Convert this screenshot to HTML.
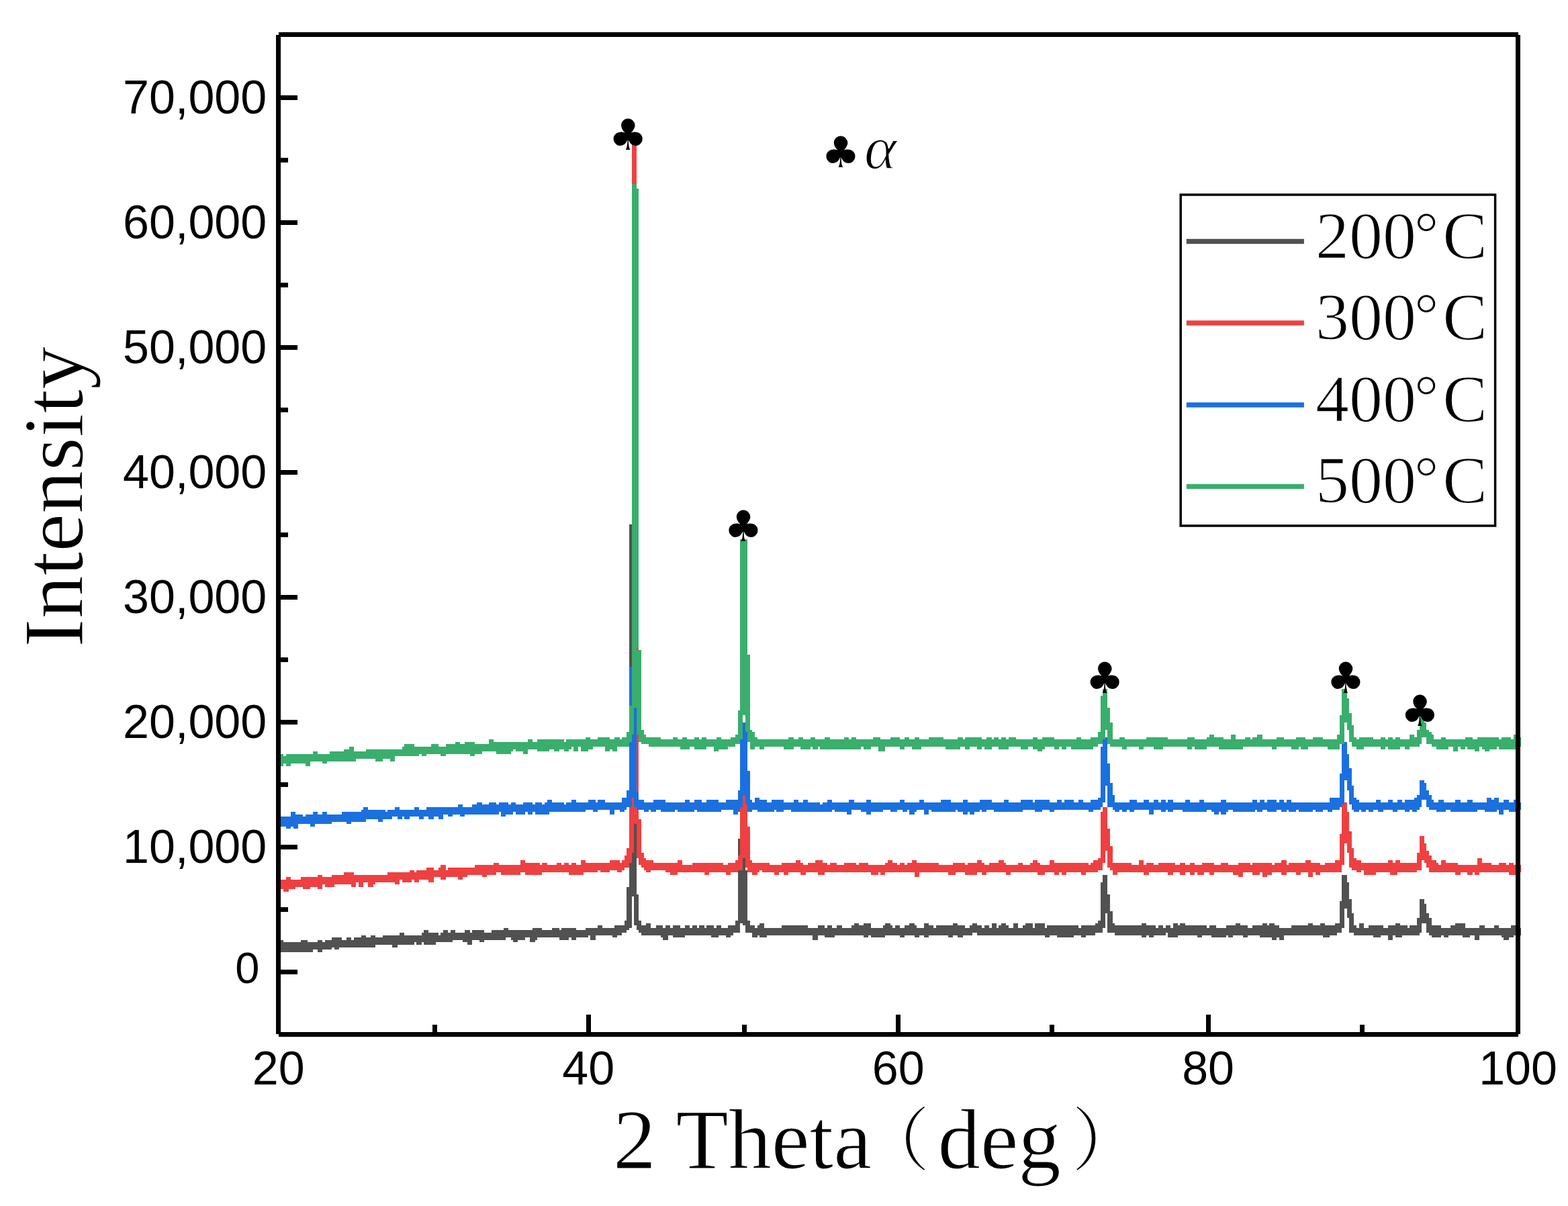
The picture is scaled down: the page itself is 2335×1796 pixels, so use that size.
<!DOCTYPE html><html><head><meta charset="utf-8"><style>html,body{margin:0;padding:0;background:#fff;overflow:hidden;}svg{display:block;}.s{font-family:"Liberation Sans",sans-serif;}.r{font-family:"Liberation Serif","Noto Serif CJK SC",serif;}</style></head><body>
<svg width="2335" height="1796" viewBox="0 0 2335 1796">
<rect width="2335" height="1796" fill="#fff"/>
<g transform="translate(1.500 0.250) scale(3.5980)" shape-rendering="crispEdges">
<path fill="#515151" d="M114 391h1v2h-1zM115 389h2v5h-2zM117 390h7v4h-7zM124 389h3v5h-3zM127 390h2v4h-2zM129 390h2v3h-2zM131 389h2v5h-2zM133 390h1v3h-1zM134 389h3v4h-3zM137 388h1v4h-1zM138 388h2v5h-2zM140 388h1v4h-1zM141 389h2v3h-2zM143 388h2v4h-2zM145 389h1v3h-1zM146 388h3v4h-3zM149 387h2v5h-2zM151 388h2v4h-2zM153 387h2v5h-2zM155 388h3v3h-3zM158 387h4v4h-4zM162 387h2v5h-2zM164 387h1v4h-1zM165 386h2v5h-2zM167 387h4v4h-4zM171 387h1v3h-1zM172 387h2v4h-2zM174 386h1v4h-1zM175 385h2v6h-2zM177 386h3v5h-3zM180 386h1v4h-1zM181 387h1v3h-1zM182 386h1v4h-1zM183 385h2v5h-2zM185 386h1v4h-1zM186 385h1v5h-1zM187 385h1v4h-1zM188 386h3v3h-3zM191 386h1v4h-1zM192 385h1v5h-1zM193 385h1v6h-1zM194 386h1v5h-1zM195 385h3v4h-3zM198 385h2v5h-2zM200 386h3v3h-3zM203 385h5v4h-5zM208 384h1v5h-1zM209 384h1v4h-1zM210 385h1v3h-1zM211 385h1v4h-1zM212 385h2v5h-2zM214 385h3v4h-3zM217 385h2v3h-2zM219 385h1v5h-1zM220 384h1v6h-1zM221 384h1v5h-1zM222 384h2v4h-2zM224 385h4v3h-4zM228 384h3v4h-3zM231 385h1v4h-1zM232 384h3v5h-3zM235 384h1v4h-1zM236 384h2v5h-2zM238 385h4v3h-4zM242 384h1v4h-1zM243 384h1v3h-1zM244 384h2v5h-2zM246 384h1v3h-1zM247 383h2v4h-2zM249 384h4v3h-4zM253 384h1v4h-1zM254 383h1v5h-1zM255 383h2v4h-2zM257 383h1v3h-1zM258 381h1v5h-1zM259 367h1v18h-1zM260 217h1v167h-1zM261 217h1v154h-1zM262 236h1v147h-1zM263 370h1v15h-1zM264 381h1v5h-1zM265 383h2v4h-2zM267 382h2v5h-2zM269 384h2v3h-2zM271 383h2v4h-2zM273 383h1v5h-1zM274 384h1v5h-1zM275 383h1v6h-1zM276 383h1v4h-1zM277 384h1v3h-1zM278 383h3v5h-3zM281 384h2v4h-2zM283 383h2v4h-2zM285 384h1v3h-1zM286 383h2v4h-2zM288 384h1v3h-1zM289 383h2v4h-2zM291 384h1v3h-1zM292 383h2v4h-2zM294 383h1v5h-1zM295 384h1v4h-1zM296 383h1v5h-1zM297 383h1v4h-1zM298 384h2v3h-2zM300 384h1v4h-1zM301 383h1v5h-1zM302 383h1v4h-1zM303 383h1v3h-1zM304 381h1v5h-1zM305 347h1v39h-1zM306 340h1v42h-1zM307 340h1v43h-1zM308 360h1v26h-1zM309 381h1v5h-1zM310 383h1v3h-1zM311 383h1v5h-1zM312 384h1v4h-1zM313 383h1v4h-1zM314 382h2v6h-2zM316 384h1v4h-1zM317 384h6v3h-6zM323 383h11v4h-11zM334 384h2v3h-2zM336 384h2v5h-2zM338 383h3v4h-3zM341 384h1v4h-1zM342 383h2v5h-2zM344 384h1v4h-1zM345 384h1v3h-1zM346 383h2v4h-2zM348 384h4v3h-4zM352 383h1v4h-1zM353 382h2v5h-2zM355 383h2v4h-2zM357 382h2v6h-2zM359 382h1v5h-1zM360 384h5v4h-5zM365 383h1v5h-1zM366 382h2v5h-2zM368 383h1v4h-1zM369 384h1v3h-1zM370 383h2v4h-2zM372 384h2v4h-2zM374 383h2v4h-2zM376 382h2v5h-2zM378 383h1v5h-1zM379 384h1v4h-1zM380 384h2v3h-2zM382 382h2v6h-2zM384 383h2v4h-2zM386 384h1v3h-1zM387 383h5v4h-5zM392 383h2v5h-2zM394 382h2v5h-2zM396 383h2v5h-2zM398 383h1v4h-1zM399 384h2v3h-2zM401 383h1v4h-1zM402 382h2v4h-2zM404 383h2v4h-2zM406 384h1v3h-1zM407 383h2v4h-2zM409 384h1v3h-1zM410 382h2v5h-2zM412 384h1v3h-1zM413 383h1v4h-1zM414 382h2v5h-2zM416 383h1v4h-1zM417 384h2v3h-2zM419 382h2v5h-2zM421 384h2v3h-2zM423 383h1v4h-1zM424 382h3v5h-3zM427 384h1v3h-1zM428 382h4v5h-4zM432 384h1v4h-1zM433 383h1v5h-1zM434 383h3v4h-3zM437 383h7v5h-7zM444 383h2v4h-2zM446 384h1v3h-1zM447 383h2v5h-2zM449 383h4v4h-4zM453 382h1v4h-1zM454 381h1v5h-1zM455 365h1v21h-1zM456 362h1v22h-1zM457 362h1v16h-1zM458 370h1v16h-1zM459 377h1v9h-1zM460 382h1v4h-1zM461 383h11v4h-11zM472 382h2v6h-2zM474 383h1v4h-1zM475 383h2v5h-2zM477 383h1v4h-1zM478 384h1v3h-1zM479 383h2v4h-2zM481 384h1v3h-1zM482 383h1v3h-1zM483 383h1v5h-1zM484 384h1v4h-1zM485 382h2v6h-2zM487 383h1v4h-1zM488 382h2v5h-2zM490 383h5v4h-5zM495 383h2v5h-2zM497 383h2v4h-2zM499 384h1v3h-1zM500 383h1v4h-1zM501 383h2v5h-2zM503 384h4v4h-4zM507 383h1v4h-1zM508 383h2v5h-2zM510 383h1v4h-1zM511 382h2v5h-2zM513 383h1v4h-1zM514 383h2v5h-2zM516 384h2v3h-2zM518 383h3v4h-3zM521 383h1v5h-1zM522 382h2v6h-2zM524 383h1v5h-1zM525 382h1v6h-1zM526 382h1v7h-1zM527 383h1v6h-1zM528 383h1v5h-1zM529 384h2v5h-2zM531 384h3v3h-3zM534 383h7v4h-7zM541 382h2v5h-2zM543 383h3v4h-3zM546 382h1v5h-1zM547 382h1v6h-1zM548 383h2v5h-2zM550 383h2v4h-2zM552 382h1v5h-1zM553 382h1v4h-1zM554 373h1v13h-1zM555 362h1v22h-1zM556 362h1v14h-1zM557 365h1v15h-1zM558 372h1v14h-1zM559 378h1v8h-1zM560 383h1v4h-1zM561 384h1v3h-1zM562 382h2v5h-2zM564 384h2v3h-2zM566 383h2v4h-2zM568 383h3v5h-3zM571 383h1v4h-1zM572 384h2v3h-2zM574 383h2v6h-2zM576 383h1v4h-1zM577 382h2v6h-2zM579 383h1v5h-1zM580 383h2v4h-2zM582 384h1v3h-1zM583 383h3v4h-3zM586 380h1v7h-1zM587 372h1v14h-1zM588 372h1v10h-1zM589 374h1v8h-1zM590 378h1v8h-1zM591 380h1v7h-1zM592 383h4v5h-4zM596 384h1v3h-1zM597 384h2v4h-2zM599 384h1v3h-1zM600 383h2v4h-2zM602 382h3v5h-3zM605 382h1v6h-1zM606 384h2v4h-2zM608 384h2v3h-2zM610 384h2v5h-2zM612 383h2v4h-2zM614 384h4v3h-4zM618 383h2v4h-2zM620 384h1v3h-1zM621 384h1v4h-1zM622 384h2v5h-2zM624 384h1v4h-1zM625 383h1v5h-1zM626 383h1v4h-1zM627 384h2v3h-2z"/>
<path fill="#ef4041" d="M114 364h1v3h-1zM115 364h2v4h-2zM117 364h1v5h-1zM118 363h1v6h-1zM119 363h1v5h-1zM120 364h2v4h-2zM122 364h2v3h-2zM124 363h1v4h-1zM125 363h3v5h-3zM128 363h3v4h-3zM131 362h2v6h-2zM133 363h1v3h-1zM134 363h3v4h-3zM137 362h1v5h-1zM138 362h4v4h-4zM142 361h3v5h-3zM145 361h1v6h-1zM146 362h1v5h-1zM147 362h1v3h-1zM148 362h2v5h-2zM150 362h2v3h-2zM152 362h2v5h-2zM154 362h1v4h-1zM155 362h5v3h-5zM160 361h3v4h-3zM163 361h2v5h-2zM165 361h1v3h-1zM166 361h3v4h-3zM169 360h1v5h-1zM170 360h1v4h-1zM171 361h1v4h-1zM172 360h1v5h-1zM173 360h3v4h-3zM176 359h1v5h-1zM177 359h2v6h-2zM179 360h2v3h-2zM181 359h1v4h-1zM182 358h2v6h-2zM184 360h1v3h-1zM185 359h4v4h-4zM189 359h2v5h-2zM191 359h2v4h-2zM193 359h3v3h-3zM196 358h3v4h-3zM199 358h2v5h-2zM201 358h3v4h-3zM204 357h1v5h-1zM205 357h1v4h-1zM206 358h1v3h-1zM207 358h8v4h-8zM215 356h2v5h-2zM217 357h6v5h-6zM223 358h1v4h-1zM224 357h2v4h-2zM226 358h4v3h-4zM230 357h2v4h-2zM232 358h1v3h-1zM233 357h2v4h-2zM235 358h1v4h-1zM236 357h2v5h-2zM238 358h2v4h-2zM240 356h1v6h-1zM241 356h1v5h-1zM242 357h5v4h-5zM247 357h1v3h-1zM248 357h4v4h-4zM252 356h3v4h-3zM255 356h1v5h-1zM256 357h1v4h-1zM257 356h1v4h-1zM258 354h1v5h-1zM259 351h1v8h-1zM260 296h1v61h-1zM261 58h1v236h-1zM261 296h1v57h-1zM262 58h1v283h-1zM263 131h1v224h-1zM264 339h1v19h-1zM265 353h1v6h-1zM266 355h1v5h-1zM267 356h2v5h-2zM269 356h1v4h-1zM270 357h5v3h-5zM275 357h2v4h-2zM277 357h3v5h-3zM280 356h2v5h-2zM282 358h4v3h-4zM286 357h5v4h-5zM291 357h2v5h-2zM293 357h6v4h-6zM299 358h1v3h-1zM300 358h1v4h-1zM301 357h1v5h-1zM302 357h2v4h-2zM304 356h1v5h-1zM305 354h1v6h-1zM306 321h1v39h-1zM307 321h1v34h-1zM308 321h1v38h-1zM309 342h1v19h-1zM310 356h1v5h-1zM311 357h2v5h-2zM313 357h1v4h-1zM314 357h1v3h-1zM315 357h3v4h-3zM318 358h2v3h-2zM320 358h2v4h-2zM322 358h1v3h-1zM323 357h1v4h-1zM324 357h2v5h-2zM326 357h3v4h-3zM329 356h2v5h-2zM331 357h1v5h-1zM332 358h1v4h-1zM333 358h1v3h-1zM334 357h3v4h-3zM337 356h1v5h-1zM338 356h2v6h-2zM340 357h1v5h-1zM341 357h1v4h-1zM342 358h1v3h-1zM343 357h3v4h-3zM346 358h3v3h-3zM349 357h5v4h-5zM354 358h1v3h-1zM355 357h4v4h-4zM359 358h1v3h-1zM360 358h3v4h-3zM363 358h1v3h-1zM364 358h2v4h-2zM366 357h1v4h-1zM367 356h2v5h-2zM369 357h2v4h-2zM371 358h1v3h-1zM372 357h2v4h-2zM374 358h1v3h-1zM375 357h2v4h-2zM377 356h1v5h-1zM378 356h1v7h-1zM379 357h1v6h-1zM380 357h8v4h-8zM388 358h4v3h-4zM392 358h2v4h-2zM394 357h1v5h-1zM395 357h4v4h-4zM399 358h1v4h-1zM400 357h4v5h-4zM404 356h2v5h-2zM406 357h1v5h-1zM407 358h1v4h-1zM408 358h1v3h-1zM409 357h4v4h-4zM413 356h2v5h-2zM415 357h1v4h-1zM416 358h2v4h-2zM418 358h3v3h-3zM421 357h2v4h-2zM423 358h3v3h-3zM426 357h1v4h-1zM427 356h2v5h-2zM429 357h1v5h-1zM430 358h2v4h-2zM432 358h2v3h-2zM434 356h2v5h-2zM436 357h2v5h-2zM438 357h1v4h-1zM439 357h2v5h-2zM441 357h6v4h-6zM447 357h2v5h-2zM449 357h1v4h-1zM450 358h1v3h-1zM451 357h1v4h-1zM452 356h2v5h-2zM454 355h1v5h-1zM455 336h1v24h-1zM456 334h1v23h-1zM457 334h1v18h-1zM458 343h1v16h-1zM459 350h1v10h-1zM460 357h2v5h-2zM462 357h6v4h-6zM468 358h3v3h-3zM471 356h2v5h-2zM473 358h1v4h-1zM474 357h1v5h-1zM475 357h2v4h-2zM477 358h2v3h-2zM479 357h4v4h-4zM483 357h2v5h-2zM485 357h1v4h-1zM486 358h2v3h-2zM488 357h2v5h-2zM490 358h2v3h-2zM492 357h2v5h-2zM494 358h1v3h-1zM495 358h2v4h-2zM497 357h1v5h-1zM498 357h2v4h-2zM500 357h2v5h-2zM502 358h3v3h-3zM505 357h3v4h-3zM508 358h2v3h-2zM510 358h2v4h-2zM512 357h2v6h-2zM514 357h3v4h-3zM517 358h1v3h-1zM518 357h3v5h-3zM521 357h1v4h-1zM522 357h2v6h-2zM524 357h2v5h-2zM526 358h1v3h-1zM527 357h3v4h-3zM530 356h2v6h-2zM532 358h1v3h-1zM533 357h3v4h-3zM536 357h2v5h-2zM538 357h2v4h-2zM540 356h1v5h-1zM541 356h1v7h-1zM542 357h1v6h-1zM543 357h1v4h-1zM544 357h2v5h-2zM546 358h2v3h-2zM548 357h4v4h-4zM552 356h2v5h-2zM554 345h1v16h-1zM555 332h1v26h-1zM556 332h1v17h-1zM557 336h1v17h-1zM558 344h1v15h-1zM559 351h1v9h-1zM560 355h1v5h-1zM561 356h2v5h-2zM563 357h1v3h-1zM564 357h5v5h-5zM569 357h5v4h-5zM574 356h1v5h-1zM575 356h1v6h-1zM576 357h1v5h-1zM577 356h1v6h-1zM578 356h1v5h-1zM579 357h7v4h-7zM586 353h1v7h-1zM587 346h1v14h-1zM588 346h1v10h-1zM589 349h1v8h-1zM590 352h1v7h-1zM591 354h1v7h-1zM592 356h2v5h-2zM594 357h1v4h-1zM595 358h1v3h-1zM596 356h2v5h-2zM598 357h4v4h-4zM602 357h1v5h-1zM603 358h1v4h-1zM604 358h3v3h-3zM607 358h2v4h-2zM609 358h1v3h-1zM610 358h1v4h-1zM611 355h1v7h-1zM612 355h1v6h-1zM613 357h4v4h-4zM617 358h3v3h-3zM620 357h3v4h-3zM623 358h1v3h-1zM624 357h2v5h-2zM626 358h1v4h-1zM627 358h2v3h-2z"/>
<path fill="#1a70df" d="M114 339h1v3h-1zM115 338h3v4h-3zM118 338h2v5h-2zM120 336h1v6h-1zM121 336h1v7h-1zM122 337h1v6h-1zM123 337h2v4h-2zM125 338h1v3h-1zM126 337h2v4h-2zM128 337h1v5h-1zM129 336h1v6h-1zM130 336h1v5h-1zM131 337h2v4h-2zM133 336h2v5h-2zM135 337h2v4h-2zM137 337h4v3h-4zM141 336h2v4h-2zM143 336h2v5h-2zM145 336h4v4h-4zM149 335h1v5h-1zM150 334h1v6h-1zM151 334h1v5h-1zM152 335h4v4h-4zM156 335h2v5h-2zM158 335h1v4h-1zM159 336h1v3h-1zM160 335h2v4h-2zM162 335h1v3h-1zM163 334h1v4h-1zM164 334h1v5h-1zM165 335h1v4h-1zM166 335h1v3h-1zM167 335h2v4h-2zM169 335h2v3h-2zM171 334h2v4h-2zM173 335h2v4h-2zM175 335h1v3h-1zM176 334h1v4h-1zM177 334h2v5h-2zM179 334h2v4h-2zM181 334h2v5h-2zM183 334h2v3h-2zM185 334h2v4h-2zM187 334h2v3h-2zM189 333h1v4h-1zM190 333h1v5h-1zM191 334h1v4h-1zM192 334h3v3h-3zM195 333h2v4h-2zM197 332h2v5h-2zM199 333h3v4h-3zM202 332h3v5h-3zM205 333h1v4h-1zM206 332h1v4h-1zM207 332h2v6h-2zM209 332h1v5h-1zM210 333h1v4h-1zM211 332h1v5h-1zM212 332h1v4h-1zM213 333h3v4h-3zM216 332h1v5h-1zM217 332h1v4h-1zM218 332h2v5h-2zM220 333h1v3h-1zM221 332h3v5h-3zM224 333h1v4h-1zM225 332h1v5h-1zM226 331h1v6h-1zM227 331h1v5h-1zM228 332h5v4h-5zM233 333h1v3h-1zM234 332h2v4h-2zM236 331h2v5h-2zM238 332h4v4h-4zM242 332h1v3h-1zM243 331h2v4h-2zM245 331h1v5h-1zM246 332h1v4h-1zM247 331h3v4h-3zM250 332h2v3h-2zM252 332h2v5h-2zM254 332h2v3h-2zM256 332h1v4h-1zM257 330h1v6h-1zM258 330h1v5h-1zM259 327h1v7h-1zM260 276h1v58h-1zM261 276h1v54h-1zM262 282h1v52h-1zM263 328h1v7h-1zM264 331h2v4h-2zM266 332h2v4h-2zM268 332h1v3h-1zM269 332h1v4h-1zM270 331h1v5h-1zM271 331h2v4h-2zM273 331h2v5h-2zM275 332h4v4h-4zM279 332h1v3h-1zM280 332h3v4h-3zM283 331h2v5h-2zM285 332h2v4h-2zM287 331h1v4h-1zM288 331h2v5h-2zM290 332h2v4h-2zM292 331h5v5h-5zM297 332h1v4h-1zM298 332h2v3h-2zM300 331h3v4h-3zM303 331h2v6h-2zM305 327h1v9h-1zM306 300h1v34h-1zM307 299h1v30h-1zM308 299h1v34h-1zM309 319h1v17h-1zM310 331h1v5h-1zM311 332h1v3h-1zM312 330h1v5h-1zM313 330h1v6h-1zM314 331h3v5h-3zM317 332h2v4h-2zM319 331h1v5h-1zM320 331h1v4h-1zM321 331h3v5h-3zM324 332h3v3h-3zM327 332h1v4h-1zM328 331h2v5h-2zM330 332h2v4h-2zM332 331h2v5h-2zM334 332h5v4h-5zM339 333h1v3h-1zM340 332h2v4h-2zM342 331h2v5h-2zM344 332h1v3h-1zM345 332h5v4h-5zM350 332h1v5h-1zM351 331h1v6h-1zM352 331h1v4h-1zM353 332h3v3h-3zM356 332h2v4h-2zM358 331h2v6h-2zM360 332h5v4h-5zM365 332h3v3h-3zM368 332h3v4h-3zM371 332h1v3h-1zM372 331h1v4h-1zM373 331h1v5h-1zM374 332h1v4h-1zM375 332h1v3h-1zM376 332h2v5h-2zM378 332h1v4h-1zM379 332h1v3h-1zM380 331h2v4h-2zM382 332h2v5h-2zM384 332h1v3h-1zM385 332h4v4h-4zM389 331h4v5h-4zM393 332h2v4h-2zM395 332h1v3h-1zM396 332h2v4h-2zM398 331h2v6h-2zM400 332h1v4h-1zM401 332h2v5h-2zM403 332h2v4h-2zM405 331h1v4h-1zM406 331h2v5h-2zM408 331h2v4h-2zM410 332h1v3h-1zM411 332h4v4h-4zM415 331h2v5h-2zM417 332h5v4h-5zM422 331h1v5h-1zM423 331h4v4h-4zM427 332h1v3h-1zM428 331h3v5h-3zM431 331h3v4h-3zM434 332h2v4h-2zM436 332h1v3h-1zM437 331h2v4h-2zM439 332h1v3h-1zM440 331h4v4h-4zM444 332h2v3h-2zM446 331h2v4h-2zM448 332h2v3h-2zM450 332h1v4h-1zM451 331h1v5h-1zM452 331h2v4h-2zM454 330h1v5h-1zM455 309h1v25h-1zM456 305h1v27h-1zM457 305h1v20h-1zM458 316h1v18h-1zM459 324h1v10h-1zM460 329h1v6h-1zM461 332h2v4h-2zM463 332h1v3h-1zM464 332h2v4h-2zM466 332h1v3h-1zM467 331h2v5h-2zM469 331h1v4h-1zM470 332h3v3h-3zM473 331h2v4h-2zM475 332h2v5h-2zM477 331h2v4h-2zM479 332h1v3h-1zM480 331h2v5h-2zM482 332h1v3h-1zM483 331h2v5h-2zM485 332h4v3h-4zM489 332h1v4h-1zM490 331h2v5h-2zM492 332h4v4h-4zM496 331h2v5h-2zM498 332h1v4h-1zM499 332h2v3h-2zM501 332h1v4h-1zM502 332h2v5h-2zM504 332h1v4h-1zM505 331h2v6h-2zM507 332h1v4h-1zM508 332h2v3h-2zM510 332h8v4h-8zM518 331h1v5h-1zM519 331h1v4h-1zM520 332h1v4h-1zM521 331h1v5h-1zM522 331h1v4h-1zM523 332h1v3h-1zM524 331h4v5h-4zM528 332h1v3h-1zM529 331h1v4h-1zM530 331h1v5h-1zM531 332h1v4h-1zM532 331h1v4h-1zM533 331h1v5h-1zM534 332h2v4h-2zM536 332h1v3h-1zM537 332h6v4h-6zM543 332h1v3h-1zM544 332h3v4h-3zM547 332h2v3h-2zM549 332h1v4h-1zM550 330h1v6h-1zM551 330h3v5h-3zM554 320h1v14h-1zM555 307h1v26h-1zM556 307h1v16h-1zM557 312h1v15h-1zM558 318h1v15h-1zM559 325h1v10h-1zM560 330h1v6h-1zM561 331h1v5h-1zM562 332h1v3h-1zM563 332h2v4h-2zM565 332h1v3h-1zM566 332h2v4h-2zM568 332h1v3h-1zM569 331h1v4h-1zM570 331h1v5h-1zM571 332h1v4h-1zM572 332h2v3h-2zM574 331h2v4h-2zM576 332h2v4h-2zM578 331h2v4h-2zM580 332h1v3h-1zM581 331h2v5h-2zM583 331h1v4h-1zM584 331h1v5h-1zM585 330h1v6h-1zM586 329h1v6h-1zM587 323h1v11h-1zM588 323h1v8h-1zM589 324h1v7h-1zM590 327h1v7h-1zM591 329h1v6h-1zM592 331h1v4h-1zM593 332h1v3h-1zM594 332h1v4h-1zM595 331h2v5h-2zM597 332h1v4h-1zM598 332h2v3h-2zM600 332h2v4h-2zM602 331h2v5h-2zM604 332h3v4h-3zM607 331h2v5h-2zM609 332h2v4h-2zM611 332h3v3h-3zM614 332h1v4h-1zM615 330h2v6h-2zM617 331h1v5h-1zM618 330h1v6h-1zM619 330h1v5h-1zM620 332h2v5h-2zM622 331h2v4h-2zM624 332h2v4h-2zM626 331h2v5h-2zM628 332h1v3h-1z"/>
<path fill="#39ae6d" d="M114 313h1v3h-1zM115 312h2v5h-2zM117 313h1v3h-1zM118 312h2v5h-2zM120 312h6v4h-6zM126 312h2v5h-2zM128 312h1v3h-1zM129 311h2v4h-2zM131 312h2v3h-2zM133 312h2v4h-2zM135 312h1v3h-1zM136 311h6v4h-6zM142 310h2v5h-2zM144 309h2v6h-2zM146 311h1v4h-1zM147 311h4v3h-4zM151 310h4v4h-4zM155 310h3v5h-3zM158 310h3v4h-3zM161 310h2v5h-2zM163 310h3v3h-3zM166 309h1v4h-1zM167 308h4v5h-4zM171 309h2v4h-2zM173 309h1v3h-1zM174 309h2v4h-2zM176 309h2v3h-2zM178 308h3v4h-3zM181 309h1v3h-1zM182 309h2v4h-2zM184 308h4v4h-4zM188 307h2v5h-2zM190 308h2v4h-2zM192 307h2v5h-2zM194 307h2v6h-2zM196 308h3v4h-3zM199 308h3v3h-3zM202 306h2v5h-2zM204 307h1v4h-1zM205 307h6v5h-6zM211 307h1v4h-1zM212 307h1v3h-1zM213 307h3v4h-3zM216 307h2v5h-2zM218 306h2v4h-2zM220 307h2v3h-2zM222 306h5v5h-5zM227 306h2v4h-2zM229 306h2v5h-2zM231 306h2v4h-2zM233 307h1v4h-1zM234 306h1v5h-1zM235 306h1v4h-1zM236 306h1v3h-1zM237 306h2v5h-2zM239 306h1v3h-1zM240 306h2v5h-2zM242 305h1v6h-1zM243 305h1v5h-1zM244 306h1v4h-1zM245 306h2v3h-2zM247 305h3v4h-3zM250 305h2v6h-2zM252 306h1v4h-1zM253 306h1v5h-1zM254 305h1v6h-1zM255 305h1v4h-1zM256 306h1v3h-1zM257 305h2v4h-2zM259 303h1v6h-1zM260 292h1v15h-1zM261 76h1v228h-1zM262 76h1v217h-1zM263 78h1v190h-1zM263 269h1v35h-1zM264 269h1v38h-1zM265 302h1v6h-1zM266 304h1v4h-1zM267 305h1v3h-1zM268 305h5v4h-5zM273 306h5v3h-5zM278 305h2v4h-2zM280 306h1v3h-1zM281 306h1v4h-1zM282 305h2v5h-2zM284 306h1v4h-1zM285 306h2v3h-2zM287 305h2v5h-2zM289 306h1v4h-1zM290 305h2v5h-2zM292 306h3v3h-3zM295 306h1v5h-1zM296 305h1v6h-1zM297 305h1v5h-1zM298 306h3v4h-3zM301 306h1v3h-1zM302 305h2v4h-2zM304 304h1v4h-1zM305 294h1v14h-1zM306 223h1v83h-1zM307 223h1v73h-1zM308 223h1v80h-1zM309 271h1v36h-1zM310 302h1v8h-1zM311 303h1v7h-1zM312 305h1v4h-1zM313 306h1v3h-1zM314 306h2v4h-2zM316 306h8v3h-8zM324 306h2v4h-2zM326 305h2v5h-2zM328 306h2v3h-2zM330 305h1v4h-1zM331 305h1v5h-1zM332 306h3v4h-3zM335 305h1v4h-1zM336 305h1v5h-1zM337 306h1v4h-1zM338 306h1v3h-1zM339 306h2v4h-2zM341 305h2v5h-2zM343 306h6v4h-6zM349 305h2v5h-2zM351 306h1v4h-1zM352 305h2v5h-2zM354 306h2v4h-2zM356 306h1v3h-1zM357 306h3v4h-3zM360 306h1v3h-1zM361 305h2v4h-2zM363 305h1v6h-1zM364 306h2v5h-2zM366 306h2v3h-2zM368 305h4v4h-4zM372 306h2v4h-2zM374 305h2v4h-2zM376 306h1v3h-1zM377 306h1v4h-1zM378 305h2v5h-2zM380 306h1v4h-1zM381 306h3v3h-3zM384 305h6v4h-6zM390 306h1v3h-1zM391 306h5v4h-5zM396 305h1v5h-1zM397 305h1v4h-1zM398 306h1v3h-1zM399 305h2v5h-2zM401 305h3v4h-3zM404 305h2v5h-2zM406 306h1v3h-1zM407 306h1v4h-1zM408 305h2v5h-2zM410 306h1v3h-1zM411 305h2v4h-2zM413 306h1v4h-1zM414 305h2v5h-2zM416 306h1v4h-1zM417 305h3v4h-3zM420 306h2v3h-2zM422 306h3v4h-3zM425 306h2v3h-2zM427 305h2v5h-2zM429 306h2v5h-2zM431 305h1v5h-1zM432 305h4v4h-4zM436 306h2v4h-2zM438 306h1v3h-1zM439 306h2v4h-2zM441 306h2v3h-2zM443 306h2v4h-2zM445 305h2v5h-2zM447 306h4v4h-4zM451 305h1v5h-1zM452 305h2v4h-2zM454 303h1v5h-1zM455 288h1v20h-1zM456 285h1v21h-1zM457 285h1v17h-1zM458 293h1v15h-1zM459 299h1v10h-1zM460 306h3v3h-3zM463 305h1v4h-1zM464 305h1v5h-1zM465 306h1v4h-1zM466 306h5v3h-5zM471 306h2v4h-2zM473 306h1v3h-1zM474 305h3v4h-3zM477 305h4v5h-4zM481 305h2v4h-2zM483 306h8v3h-8zM491 305h2v5h-2zM493 305h1v4h-1zM494 306h5v4h-5zM499 305h1v4h-1zM500 304h2v5h-2zM502 305h2v4h-2zM504 305h2v5h-2zM506 306h3v4h-3zM509 304h2v6h-2zM511 306h3v4h-3zM514 306h1v3h-1zM515 305h2v4h-2zM517 306h1v3h-1zM518 305h2v4h-2zM520 304h2v5h-2zM522 306h4v3h-4zM526 306h2v4h-2zM528 305h3v4h-3zM531 306h3v3h-3zM534 306h2v4h-2zM536 305h1v5h-1zM537 305h1v4h-1zM538 305h2v5h-2zM540 306h1v4h-1zM541 306h2v3h-2zM543 305h4v4h-4zM547 306h2v3h-2zM549 306h4v4h-4zM553 304h1v6h-1zM554 296h1v12h-1zM555 285h1v23h-1zM556 285h1v14h-1zM557 289h1v13h-1zM558 295h1v12h-1zM559 300h1v9h-1zM560 305h1v4h-1zM561 306h1v4h-1zM562 305h2v5h-2zM564 305h4v4h-4zM568 306h3v3h-3zM571 305h2v5h-2zM573 306h1v3h-1zM574 305h2v5h-2zM576 306h1v4h-1zM577 305h2v5h-2zM579 306h2v3h-2zM581 306h2v4h-2zM583 304h2v5h-2zM585 305h1v4h-1zM586 302h1v7h-1zM587 297h1v11h-1zM588 297h1v8h-1zM589 299h1v6h-1zM590 302h1v6h-1zM591 303h1v5h-1zM592 304h1v5h-1zM593 306h1v3h-1zM594 306h2v4h-2zM596 305h2v5h-2zM598 306h1v4h-1zM599 306h2v3h-2zM601 306h2v5h-2zM603 306h1v3h-1zM604 306h2v4h-2zM606 305h1v4h-1zM607 305h2v5h-2zM609 306h1v4h-1zM610 306h1v5h-1zM611 305h1v6h-1zM612 305h1v4h-1zM613 305h1v5h-1zM614 305h2v6h-2zM616 305h3v5h-3zM619 305h1v4h-1zM620 306h1v4h-1zM621 305h4v5h-4zM625 306h1v4h-1zM626 304h1v6h-1zM627 304h1v5h-1zM628 305h1v4h-1z"/>
</g>
<g fill="#000" shape-rendering="crispEdges"><rect x="411.4" y="51.5" width="6.7" height="1488.7"/><rect x="414.75" y="48" width="1845.85" height="7"/><rect x="2257.3" y="51.5" width="6.6" height="1488.7"/><rect x="414.75" y="1536.6" width="1845.85" height="7.2"/><rect x="418" y="1257.9" width="25.4" height="7"/><rect x="418" y="1071.9" width="25.4" height="7"/><rect x="418" y="885.8" width="25.4" height="7"/><rect x="418" y="699.7" width="25.4" height="7"/><rect x="418" y="513.7" width="25.4" height="7"/><rect x="418" y="327.6" width="25.4" height="7"/><rect x="418" y="141.5" width="25.4" height="7"/><rect x="418" y="1444.0" width="25.4" height="7"/><rect x="418" y="1351.0" width="11" height="7"/><rect x="418" y="1164.9" width="11" height="7"/><rect x="418" y="978.8" width="11" height="7"/><rect x="418" y="792.8" width="11" height="7"/><rect x="418" y="606.7" width="11" height="7"/><rect x="418" y="420.6" width="11" height="7"/><rect x="418" y="234.5" width="11" height="7"/><rect x="873.0" y="1511.4" width="7" height="25.5"/><rect x="1334.3" y="1511.4" width="7" height="25.5"/><rect x="1795.5" y="1511.4" width="7" height="25.5"/><rect x="643.9" y="1525.7" width="7" height="11"/><rect x="1105.2" y="1525.7" width="7" height="11"/><rect x="1563.1" y="1525.7" width="7" height="11"/><rect x="2024.5" y="1525.7" width="7" height="11"/></g>
<g class="s" font-size="70" fill="#000"><text x="397.2" y="1285.4" text-anchor="end">10,000</text><text x="397.2" y="1099.4" text-anchor="end">20,000</text><text x="397.2" y="913.3" text-anchor="end">30,000</text><text x="397.2" y="727.2" text-anchor="end">40,000</text><text x="397.2" y="541.2" text-anchor="end">50,000</text><text x="397.2" y="355.1" text-anchor="end">60,000</text><text x="397.2" y="169.0" text-anchor="end">70,000</text></g>
<text class="s" x="368.4" y="1464" font-size="65" text-anchor="middle">0</text>
<g class="s" font-size="70" fill="#000"><text x="414.8" y="1615" text-anchor="middle">20</text><text x="876.2" y="1615" text-anchor="middle">40</text><text x="1337.7" y="1615" text-anchor="middle">60</text><text x="1799.1" y="1615" text-anchor="middle">80</text><text x="2260.6" y="1615" text-anchor="middle">100</text></g>
<g stroke="#fff" stroke-width="1.2">
<text class="r" x="912.9" y="1739.5" font-size="128">2 Theta</text>
<text x="1281.4" y="1734.5" font-size="103" style="font-family:'Liberation Serif','Noto Serif CJK SC',serif">（</text>
<text class="r" x="1396.5" y="1739.5" font-size="127">deg</text>
<text x="1596.1" y="1734.5" font-size="103" style="font-family:'Liberation Serif','Noto Serif CJK SC',serif">）</text>
<text class="r" transform="translate(122.9 740) rotate(-90)" font-size="128" text-anchor="middle">Intensity</text>
</g>
<rect x="1758.2" y="290" width="468.4" height="493" fill="none" stroke="#000" stroke-width="3.5"/>
<rect x="1766.8" y="355.8" width="175.1" height="7.4" fill="#515151"/>
<text class="r" x="2215" y="384.0" font-size="100" text-anchor="end" stroke="#fff" stroke-width="1.4">200<tspan font-size="91" dx="-3" dy="-6">°</tspan><tspan dx="6" dy="6">C</tspan></text>
<rect x="1766.8" y="477.3" width="175.1" height="7.4" fill="#ef4041"/>
<text class="r" x="2215" y="505.3" font-size="100" text-anchor="end" stroke="#fff" stroke-width="1.4">300<tspan font-size="91" dx="-3" dy="-6">°</tspan><tspan dx="6" dy="6">C</tspan></text>
<rect x="1766.8" y="599.3" width="175.1" height="7.4" fill="#1a70df"/>
<text class="r" x="2215" y="626.6" font-size="100" text-anchor="end" stroke="#fff" stroke-width="1.4">400<tspan font-size="91" dx="-3" dy="-6">°</tspan><tspan dx="6" dy="6">C</tspan></text>
<rect x="1766.8" y="720.8" width="175.1" height="7.4" fill="#39ae6d"/>
<text class="r" x="2215" y="747.9" font-size="100" text-anchor="end" stroke="#fff" stroke-width="1.4">500<tspan font-size="91" dx="-3" dy="-6">°</tspan><tspan dx="6" dy="6">C</tspan></text>
<g style="font-family:'DejaVu Sans',sans-serif" font-size="64">
<text x="906.5" y="223.2">♣</text>
<text x="1078.3" y="806.0">♣</text>
<text x="1616.4" y="1031.6">♣</text>
<text x="1975.2" y="1031.6">♣</text>
<text x="2085.7" y="1081.2">♣</text>
<text x="1223.2" y="248.5">♣</text>
</g>
<text class="r" x="1287" y="251" font-size="92" font-style="italic" stroke="#fff" stroke-width="1.6">α</text>
</svg></body></html>
